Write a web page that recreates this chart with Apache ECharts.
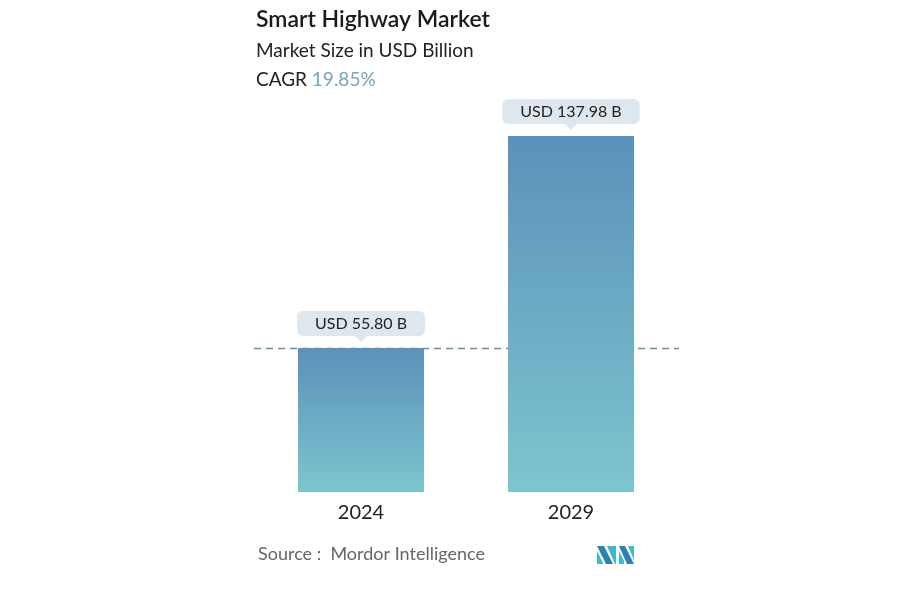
<!DOCTYPE html>
<html><head><meta charset="utf-8">
<script src="https://cdn.jsdelivr.net/npm/echarts@6/dist/echarts.min.js"></script>
<style>html,body{margin:0;padding:0;background:#fff}#c{width:900px;height:600px}</style>
</head><body><div id="c"></div>
<script>
const categories = ['2024', '2029'];
const values = [55.80, 137.98];
const valueLabels = ['USD 55.80 B', 'USD 137.98 B'];
const titleText = 'Smart Highway Market';
const subtitleText = 'Market Size in USD Billion';
const cagrText = '19.85%';

const FONT = 'Lato, "Open Sans", sans-serif';
const chart = echarts.init(document.getElementById('c'));
chart.setOption({
  backgroundColor: '#fff',
  animation: false,
  grid: { left: 256, right: 224, top: 105, bottom: 108 },
  xAxis: {
    type: 'category', data: categories,
    axisLine: { show: false }, axisTick: { show: false },
    axisLabel: { fontSize: 20, color: '#222', margin: 11, fontFamily: FONT }
  },
  yAxis: { type: 'value', min: 0, max: 150, show: false, splitLine: { show: false } },
  series: [{
    type: 'line', data: [], z: 1,
    markLine: {
      silent: true, symbol: 'none', z: 1,
      lineStyle: { color: '#6f8ea3', type: [7, 5], width: 1.3 },
      label: { show: false },
      data: [[{ x: 254, yAxis: values[0] }, { x: 679, yAxis: values[0] }]]
    }
  }, {
    type: 'bar', barWidth: 126, data: values, z: 6,
    itemStyle: {
      color: new echarts.graphic.LinearGradient(0, 0, 0, 1, [
        { offset: 0, color: '#5b91ba' },
        { offset: 1, color: '#7ec5cf' }
      ])
    },
    label: {
      show: true, position: 'top', distance: 12,
      formatter: p => valueLabels[p.dataIndex],
      backgroundColor: '#dee7ed', borderRadius: 6, padding: [5, 18, 4, 18],
      fontSize: 16, color: '#222', fontFamily: FONT
    },
    markPoint: {
      silent: true, z: 7,
      symbol: 'triangle', symbolRotate: 180, symbolSize: [12, 6],
      symbolOffset: [0, -9],
      itemStyle: { color: '#dee7ed' },
      label: { show: false },
      data: values.map((v, i) => ({ coord: [categories[i], v] }))
    }
  }],
  graphic: [
    { type: 'text', left: 256, top: 8, style: { text: titleText, fontSize: 23, fontWeight: 600, fill: '#1a1a1a', fontFamily: FONT } },
    { type: 'text', left: 256, top: 41, style: { text: subtitleText, fontSize: 19, fill: '#222', fontFamily: FONT } },
    { type: 'text', left: 256, top: 70, style: { rich: { a: { fontSize: 19, fill: '#222', fontFamily: FONT }, b: { fontSize: 19, fill: '#7ea3b8', fontFamily: FONT } }, text: '{a|CAGR }{b|' + cagrText + '}' } },
    { type: 'text', left: 258, top: 545, style: { text: 'Source :  Mordor Intelligence', fontSize: 18, fill: '#666', fontFamily: FONT } },
    { type: 'group', left: 597, top: 546, children: [
      { type: 'polygon', shape: { points: [[0,0],[7,0],[16,18],[9,18]] }, style: { fill: '#2c82b5' } },
      { type: 'polygon', shape: { points: [[0,5],[6,17],[6,18],[0,18]] }, style: { fill: '#3fb8c8' } },
      { type: 'polygon', shape: { points: [[10,0],[19,0],[19,18],[18,18]] }, style: { fill: '#3fb8c8' } },
      { type: 'polygon', shape: { points: [[22,0],[28,0],[37,18],[30,18]] }, style: { fill: '#2c82b5' } },
      { type: 'polygon', shape: { points: [[31,0],[37,0],[37,14]] }, style: { fill: '#3fb8c8' } },
      { type: 'polygon', shape: { points: [[22,5],[27,15],[27,18],[22,18]] }, style: { fill: '#3fb8c8' } }
    ]}
  ]
});
</script></body></html>
